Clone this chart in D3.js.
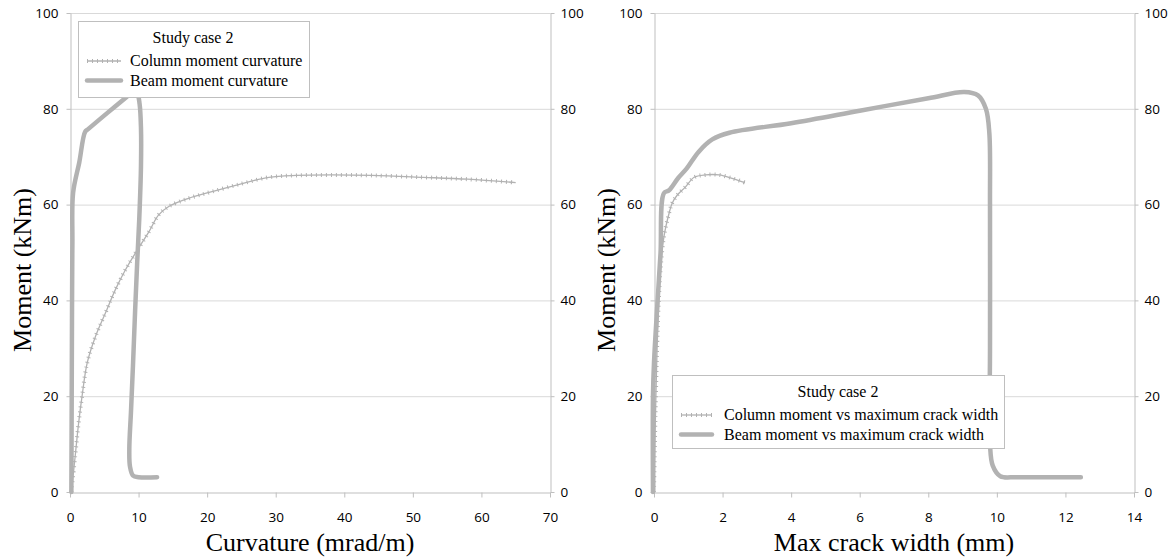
<!DOCTYPE html>
<html><head><meta charset="utf-8">
<script src="https://cdn.jsdelivr.net/npm/d3@7"></script>
<style>
html,body{margin:0;padding:0;background:#fff;}
svg{display:block;}
.tick text{font-family:"Open Sans",sans-serif;font-size:13.5px;fill:#000;}
</style></head>
<body><svg id="c" width="1169" height="559"></svg>
<script>
// ---- data ----
const curvatureTicks = [0,10,20,30,40,50,60,70];
const crackTicks = [0,2,4,6,8,10,12,14];
const momentTicks = [0,20,40,60,80,100];

const colCurvX = [0.2,0.75,1.25,1.75,2.5,3.7,5.15,6.6,8.05,9.5,11.5,12.9,14.4,17.3,20.7,25.1,29,33,38,44,51.5,58,65];
const colCurvM = [0,7.4,14.3,19.9,26.9,32.4,37.3,42.2,46.3,49.8,54.3,57.8,59.6,61.3,62.7,64.4,65.7,66.1,66.2,66.1,65.7,65.3,64.6];

const beamCurvX = [0.2,0.25,0.3,0.35,0.45,1.35,2.2,2.6,5.5,8.3,9.2,9.8,10.15,10.35,10.35,10.1,9.8,9.5,9.2,8.9,8.65,8.75,9.2,10,12.7];
const beamCurvM = [0,20,40,52,62.4,68.8,75.2,75.7,79.2,82.5,83.6,83.2,81,76,68,57,48,38,27,17,9,5.3,3.4,3.1,3.1];

const colCrackW = [0,0.04,0.09,0.14,0.19,0.29,0.44,0.53,0.68,0.92,1.17,1.5,1.9,2.28,2.65];
const colCrackM = [0,15,30,40,46.3,53.3,58.2,60.3,62,63.7,65.7,66.2,66.2,65.5,64.6];

const beamCrackW = [-0.03,-0.03,0,0.1,0.19,0.29,0.44,0.7,0.95,1.3,1.7,2.2,4,6,8,9.05,9.45,9.68,9.78,9.8,9.8,9.8,9.88,10.1,10.6,12.45];
const beamCrackM = [0,20,27,39.4,49.8,62.4,63,65.5,67.5,71,73.6,75,77,79.6,82.2,83.5,82.8,80,75,60,30,10,5.5,3.3,3.1,3.1];

const legendTitle = "Study case 2";
const leftLegend = ["Column moment curvature","Beam moment curvature"];
const rightLegend = ["Column moment vs maximum crack width","Beam moment vs maximum crack width"];

// ---- drawing ----
const svg = d3.select("#c");
const lineColor = "#b2b2b2";
const axisColor = "#bfbfbf";
const gridColor = "#d9d9d9";
const y = d3.scaleLinear().domain([0,100]).range([492,13]);

function zip(a,b){return a.map((v,i)=>[v,b[i]]);}

function panel(opts){
  const x = d3.scaleLinear().domain(opts.xDomain).range(opts.xRange);
  const g = svg.append("g");
  g.append("g").selectAll("line").data(momentTicks.filter(d=>d>0)).join("line")
    .attr("x1",opts.xRange[0]).attr("x2",opts.xRange[1])
    .attr("y1",d=>y(d)+0.5).attr("y2",d=>y(d)+0.5)
    .attr("stroke",gridColor).attr("stroke-width",1);
  const ax = g.append("g").attr("transform","translate(0,492.5)")
    .call(d3.axisBottom(x).tickValues(opts.xTicks).tickSize(5).tickSizeOuter(0).tickPadding(15).tickFormat(d3.format("d")));
  const ayl = g.append("g").attr("transform",`translate(${opts.xRange[0]+0.5},0)`)
    .call(d3.axisLeft(y).tickValues(momentTicks).tickSize(4).tickSizeOuter(0).tickPadding(8));
  const ayr = g.append("g").attr("transform",`translate(${opts.xRange[1]+0.5},0)`)
    .call(d3.axisRight(y).tickValues(momentTicks).tickSize(4).tickSizeOuter(0).tickPadding(6));
  [ax,ayl,ayr].forEach(a=>{
    a.select(".domain").attr("stroke",axisColor);
    a.selectAll(".tick line").attr("stroke",axisColor);
    a.selectAll(".tick text").attr("fill","#000");
  });
  const cx = (opts.xRange[0]+opts.xRange[1])/2;
  const serif = "'Liberation Serif','Times New Roman',serif";
  g.append("text").attr("x",cx).attr("y",551).attr("text-anchor","middle")
    .attr("font-family",serif).attr("font-size",26).text(opts.xTitle);
  g.append("text").attr("transform",`translate(${opts.yTitleX},270) rotate(-90)`)
    .attr("text-anchor","middle").attr("font-family",serif)
    .attr("font-size",26).text("Moment (kNm)");
  const line = d3.line().x(d=>x(d[0])).y(d=>y(d[1])).curve(d3.curveCatmullRom.alpha(0.5));
  const colData = zip(opts.colX,opts.colM);
  g.append("path").attr("d",line(colData)).attr("fill","none").attr("stroke",lineColor).attr("stroke-width",1.3);
  g.append("path").attr("d",line(colData)).attr("fill","none").attr("stroke",lineColor)
    .attr("stroke-width",4).attr("stroke-dasharray","1 4");
  g.append("path").attr("d",line(zip(opts.beamX,opts.beamM))).attr("fill","none").attr("stroke",lineColor)
    .attr("stroke-width",4.5).attr("stroke-linecap","round").attr("stroke-linejoin","round");
  const L = opts.legend;
  const lg = g.append("g");
  lg.append("rect").attr("x",L.x+0.5).attr("y",L.y+0.5).attr("width",L.w).attr("height",L.h)
    .attr("fill","#fff").attr("stroke","#bfbfbf").attr("stroke-width",1);
  lg.append("text").attr("x",L.x+L.titleDx).attr("y",L.y+22).attr("text-anchor","middle")
    .attr("font-family",serif).attr("font-size",16).text(legendTitle);
  const rows = [L.y+40, L.y+59.5];
  lg.append("line").attr("x1",L.x+L.sx1).attr("x2",L.x+L.sx2).attr("y1",rows[0]).attr("y2",rows[0])
    .attr("stroke",lineColor).attr("stroke-width",1.3);
  lg.append("line").attr("x1",L.x+L.sx1).attr("x2",L.x+L.sx2).attr("y1",rows[0]).attr("y2",rows[0])
    .attr("stroke",lineColor).attr("stroke-width",4).attr("stroke-dasharray","1 4");
  lg.append("line").attr("x1",L.x+L.sx1).attr("x2",L.x+L.sx2).attr("y1",rows[1]).attr("y2",rows[1])
    .attr("stroke",lineColor).attr("stroke-width",4.5).attr("stroke-linecap","round");
  L.labels.forEach((t,i)=>{
    lg.append("text").attr("x",L.x+L.tx).attr("y",rows[i]+5).attr("font-family",serif)
      .attr("font-size",16).text(t);
  });
}

panel({xDomain:[0,70], xRange:[70,550], xTicks:curvatureTicks, xTitle:"Curvature (mrad/m)", yTitleX:31,
  colX:colCurvX, colM:colCurvM, beamX:beamCurvX, beamM:beamCurvM,
  legend:{x:78,y:21,w:231,h:76,titleDx:115,sx1:9,sx2:43,tx:52,labels:leftLegend}});
panel({xDomain:[0,14], xRange:[654,1134], xTicks:crackTicks, xTitle:"Max crack width (mm)", yTitleX:615,
  colX:colCrackW, colM:colCrackM, beamX:beamCrackW, beamM:beamCrackM,
  legend:{x:672,y:375,w:332,h:73,titleDx:166,sx1:9,sx2:40,tx:52,labels:rightLegend}});
</script></body></html>
